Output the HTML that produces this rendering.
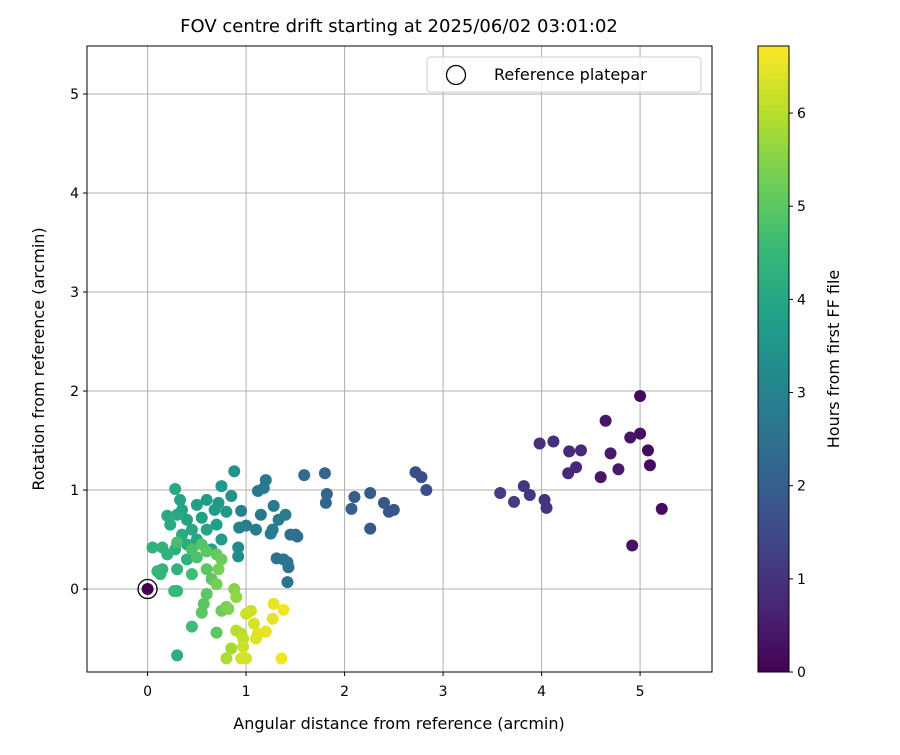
<!DOCTYPE html>
<html><head><meta charset="utf-8"><style>
body{margin:0;background:#fff;font-family:"Liberation Sans","DejaVu Sans",sans-serif}
svg text{font-family:"DejaVu Sans","Liberation Sans",sans-serif}
</style></head><body>
<svg id="c" width="900" height="750" xmlns="http://www.w3.org/2000/svg"></svg>
<script>
const xs=[5.0,4.65,5.0,4.9,5.08,5.1,4.7,4.78,4.6,5.22,4.92,4.12,3.98,4.4,4.28,4.35,4.27,4.03,4.05,3.82,3.88,3.58,3.72,
2.72,2.78,2.83,2.4,2.45,2.5,2.26,2.1,2.07,2.26,1.8,1.82,1.81,1.59,1.5,1.52,1.45,1.38,1.42,1.43,1.31,1.42,1.2,1.18,1.12,1.15,1.28,1.4,1.33,1.27,1.25,1.1,1.0,0.95,0.93,
0.88,0.85,0.92,0.92,0.75,0.72,0.8,0.6,0.68,0.5,0.55,0.33,0.28,0.35,0.4,0.3,0.2,0.23,0.45,0.5,0.6,0.7,0.75,0.65,0.35,0.4,0.28,0.2,0.15,0.05,0.1,0.15,0.13,0.3,0.4,0.27,0.3,0.3,0.45,0.45,
0.3,0.45,0.5,0.55,0.6,0.6,0.65,0.7,0.75,0.72,0.7,0.6,0.57,0.55,0.7,0.75,0.8,0.82,0.88,0.9,0.85,0.8,
0.9,0.95,0.97,0.97,0.95,1.0,1.0,1.08,1.12,1.1,1.2,1.28,1.27,1.38,1.36,1.05,0];
const ys=[1.95,1.7,1.57,1.53,1.4,1.25,1.37,1.21,1.13,0.81,0.44,1.49,1.47,1.4,1.39,1.23,1.17,0.9,0.82,1.04,0.95,0.97,0.88,
1.18,1.13,1.0,0.87,0.78,0.8,0.97,0.93,0.81,0.61,1.17,0.96,0.87,1.15,0.55,0.53,0.55,0.3,0.27,0.22,0.31,0.07,1.1,1.02,0.99,0.75,0.84,0.75,0.7,0.6,0.56,0.6,0.64,0.79,0.62,
1.19,0.94,0.33,0.42,1.04,0.87,0.78,0.9,0.8,0.85,0.72,0.9,1.01,0.8,0.7,0.75,0.74,0.65,0.6,0.5,0.6,0.65,0.5,0.4,0.55,0.45,0.4,0.35,0.42,0.42,0.18,0.2,0.15,0.2,0.3,-0.02,-0.02,-0.67,-0.38,0.15,
0.47,0.4,0.32,0.45,0.38,0.2,0.1,0.35,0.3,0.2,0.05,-0.05,-0.15,-0.24,-0.44,-0.22,-0.18,-0.2,0.0,-0.08,-0.6,-0.7,
-0.42,-0.45,-0.5,-0.58,-0.7,-0.7,-0.25,-0.35,-0.45,-0.5,-0.43,-0.15,-0.3,-0.21,-0.7,-0.22,0];
const hours=[0.2,0.4,0.3,0.4,0.2,0.2,0.5,0.5,0.4,0.2,0.3,0.9,0.9,0.8,0.8,0.8,0.8,1.0,1.0,1.1,1.1,1.2,1.2,
1.6,1.6,1.6,1.8,1.8,1.8,1.9,2.0,2.0,1.9,2.2,2.2,2.2,2.3,2.4,2.4,2.5,2.6,2.6,2.6,2.6,2.6,2.7,2.7,2.7,2.7,2.7,2.8,2.8,2.8,2.8,2.8,2.9,3.0,3.0,
3.5,3.5,3.2,3.2,3.6,3.6,3.6,3.7,3.7,3.8,3.8,3.9,4.0,3.9,3.9,4.0,4.1,4.1,4.0,4.0,3.9,3.8,3.7,3.8,4.1,4.1,4.2,4.3,4.3,4.3,4.4,4.4,4.4,4.3,4.3,4.5,4.5,4.2,4.6,4.6,
4.7,4.8,4.8,4.9,5.0,5.0,5.0,5.1,5.2,5.3,5.3,5.0,5.0,5.0,5.0,5.2,5.3,5.4,5.5,5.6,5.8,5.9,
6.0,6.0,6.1,6.2,6.3,6.3,6.2,6.3,6.4,6.4,6.5,6.5,6.5,6.6,6.6,6.2,0];
const xTicks=[0,1,2,3,4,5], yTicks=[0,1,2,3,4,5], cTicks=[0,1,2,3,4,5,6];
const X0=87,X1=712,Y0=46,Y1=672,xmin=-0.615,xmax=5.73,ymin=-0.838,ymax=5.485,cmax=6.72;
const sx=v=>X0+(v-xmin)/(xmax-xmin)*(X1-X0), sy=v=>Y1-(v-ymin)/(ymax-ymin)*(Y1-Y0);
const vir=[[68,1,84],[72,40,120],[62,74,137],[49,104,142],[38,130,142],[31,158,137],[53,183,121],[109,205,89],[180,222,44],[253,231,37]];
function col(t){t=Math.max(0,Math.min(1,t))*9;const i=Math.min(8,Math.floor(t)),f=t-i,a=vir[i],b=vir[i+1];return `rgb(${a.map((v,k)=>Math.round(v+(b[k]-v)*f)).join(',')})`;}
const svg=document.getElementById('c');const NS="http://www.w3.org/2000/svg";
function el(t,at,txt){const e=document.createElementNS(NS,t);for(const k in at)e.setAttribute(k,at[k]);if(txt!=null)e.textContent=txt;svg.appendChild(e);return e;}
let e;
e=el('text',{x:399,y:32,'text-anchor':'middle','font-size':'18'},'FOV centre drift starting at 2025/06/02 03:01:02');


xTicks.forEach(v=>{const x=sx(v);
 e=el('line',{x1:x,x2:x,y1:Y0,y2:Y1,stroke:'#b0b0b0','stroke-width':1});
 
 
 el('line',{x1:x,x2:x,y1:Y1,y2:Y1+4,stroke:'#000'});
 e=el('text',{x:x,y:Y1+24,'text-anchor':'middle','font-size':'14'},String(v));
 
 });
yTicks.forEach(v=>{const y=sy(v);
 e=el('line',{x1:X0,x2:X1,y1:y,y2:y,stroke:'#b0b0b0','stroke-width':1});
 
 
 el('line',{x1:X0-4,x2:X0,y1:y,y2:y,stroke:'#000'});
 e=el('text',{x:X0-8,y:y+5,'text-anchor':'end','font-size':'14'},String(v));
 
 });
xs.forEach((v,i)=>{e=el('circle',{cx:sx(v),cy:sy(ys[i]),r:6,fill:col(hours[i]/cmax)});
 
 });
e=el('circle',{cx:sx(0),cy:sy(0),r:9.5,fill:'none',stroke:'#000','stroke-width':1.3});


e=el('rect',{x:X0,y:Y0,width:X1-X0,height:Y1-Y0,fill:'none',stroke:'#000','stroke-width':1});


e=el('text',{x:399,y:729,'text-anchor':'middle','font-size':'16'},'Angular distance from reference (arcmin)');


e=el('text',{x:44,y:359,'text-anchor':'middle','font-size':'16',transform:'rotate(-90 44 359)'},'Rotation from reference (arcmin)');


e=el('rect',{x:427,y:57,width:274,height:35,rx:3,fill:'#fff','fill-opacity':0.8,stroke:'#ccc'});


el('circle',{cx:456,cy:75,r:9.5,fill:'none',stroke:'#000','stroke-width':1.3});
e=el('text',{x:494,y:80,'font-size':'16'},'Reference platepar');


const CX=758,CW=31;
const defs=el('defs',{});const g=document.createElementNS(NS,'linearGradient');g.setAttribute('id','vg');g.setAttribute('x1','0');g.setAttribute('y1','1');g.setAttribute('x2','0');g.setAttribute('y2','0');defs.appendChild(g);
vir.forEach((c,i)=>{const s=document.createElementNS(NS,'stop');s.setAttribute('offset',i/9);s.setAttribute('stop-color',`rgb(${c})`);g.appendChild(s);});
e=el('rect',{x:CX,y:Y0,width:CW,height:Y1-Y0,fill:'url(#vg)',stroke:'#000','stroke-width':1});


cTicks.forEach(v=>{const y=Y1-v/cmax*(Y1-Y0);
 el('line',{x1:CX+CW,x2:CX+CW+4,y1:y,y2:y,stroke:'#000'});
 e=el('text',{x:CX+CW+8,y:y+5,'font-size':'14'},String(v));
 
 });
e=el('text',{x:839,y:359,'text-anchor':'middle','font-size':'16',transform:'rotate(-90 839 359)'},'Hours from first FF file');


</script></body></html>
